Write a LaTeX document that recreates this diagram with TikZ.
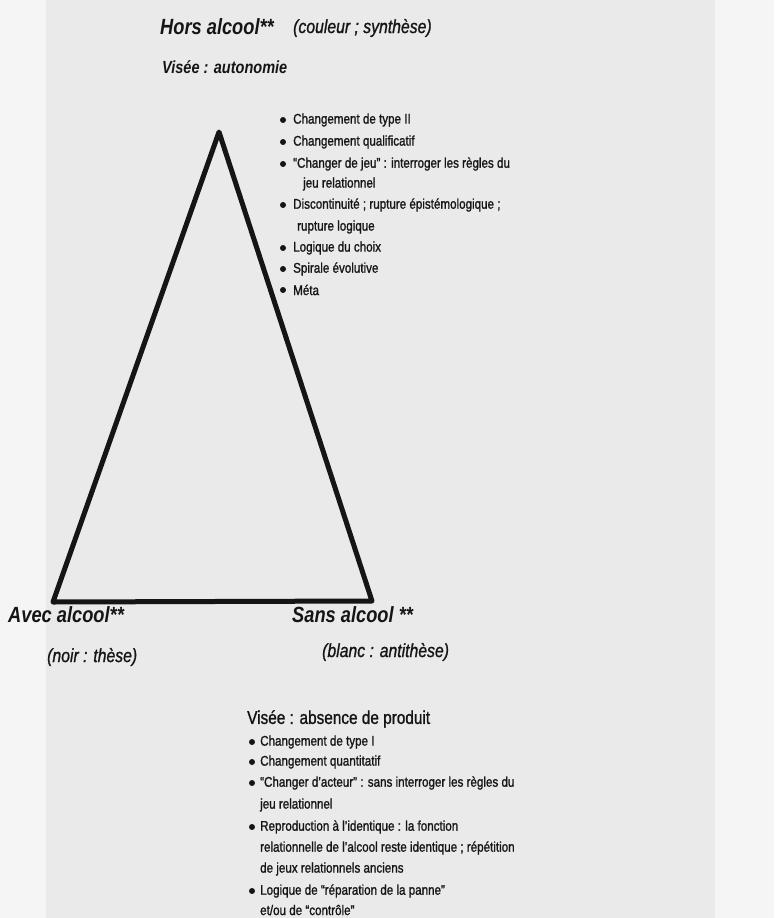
\documentclass[tikz,border=0pt]{standalone}
\usepackage{fontspec}
\setmainfont{Liberation Sans}[FakeStretch=0.83]
\newfontfamily\medfont{Liberation Sans}[FakeStretch=0.83,FakeBold=1.2]
\newfontfamily\meditfont{Liberation Sans Italic}[FakeStretch=0.83,FakeBold=1.0]
\definecolor{bgout}{HTML}{F5F5F5}
\definecolor{bgin}{HTML}{EAEAEA}
\definecolor{ink}{HTML}{151515}
\begin{document}
\begin{tikzpicture}[x=1pt,y=-1pt,
  every node/.style={inner sep=0pt, text=ink},
  head/.style={font=\fontsize{22}{24}\selectfont\bfseries\itshape, anchor=west},
  sub/.style={font=\fontsize{19}{21}\selectfont\meditfont, anchor=west},
  item/.style={font=\fontsize{14}{16}\selectfont\medfont, anchor=west},
  dot/.style={fill=ink, draw=none}]
\useasboundingbox (0,0) rectangle (774,918);
\fill[bgout] (0,0) rectangle (774,918);
\fill[bgin] (46,0) rectangle (715,918);
% titles
\node[head] (hors) at (160,27) {Hors alcool**};
\node[sub] (coul) at (293,28) {(couleur ; synthèse)};
\node[font=\fontsize{17.5}{20}\selectfont\bfseries\itshape, anchor=west] (visA) at (162,67) {Visée : autonomie};
% triangle
\coordinate (apex) at (219,132);
\coordinate (bl) at (53,602);
\coordinate (br) at (372,601);
\draw[line width=5pt, line join=round, draw=ink] (apex) -- (bl) -- (br) -- cycle;
% corner labels
\node[head] (avec) at (8,615) {Avec alcool**};
\node[sub] (noir) at (47,657) {(noir : thèse)};
\node[head] (sans) at (292,615) {Sans alcool **};
\node[sub] (blanc) at (322,652) {(blanc : antithèse)};
% top list
\foreach \y in {120,142,164,205,248,269,290} {\fill[dot] (283,\y) circle (3);}
\node[item] (t1) at (293,120) {Changement de type II};
\node[item] (t2) at (293,142) {Changement qualificatif};
\node[item] (t3) at (293,164) {“Changer de jeu” : interroger les règles du};
\node[item] (t3b) at (303,184) {jeu relationnel};
\node[item] (t4) at (293,205) {Discontinuité ; rupture épistémologique ;};
\node[item] (t4b) at (297,227) {rupture logique};
\node[item] (t5) at (293,248) {Logique du choix};
\node[item] (t6) at (293,269) {Spirale évolutive};
\node[item] (t7) at (293,290) {Méta};
% bottom list
\node[font=\fontsize{18.5}{21}\selectfont\medfont, anchor=west] (visB) at (247,719) {Visée : absence de produit};
\foreach \y in {742,762,783,827,891} {\fill[dot] (252,\y) circle (3);}
\node[item] (b1) at (260,742) {Changement de type I};
\node[item] (b2) at (260,762) {Changement quantitatif};
\node[item] (b3) at (260,783) {“Changer d’acteur” : sans interroger les règles du};
\node[item] (b3b) at (260,805) {jeu relationnel};
\node[item] (b4) at (260,827) {Reproduction à l’identique : la fonction};
\node[item] (b4b) at (260,848) {relationnelle de l’alcool reste identique ; répétition};
\node[item] (b4c) at (260,869) {de jeux relationnels anciens};
\node[item] (b5) at (260,891) {Logique de “réparation de la panne”};
\node[item] (b5b) at (260,910) {et/ou de “contrôle”};
\end{tikzpicture}
\end{document}
